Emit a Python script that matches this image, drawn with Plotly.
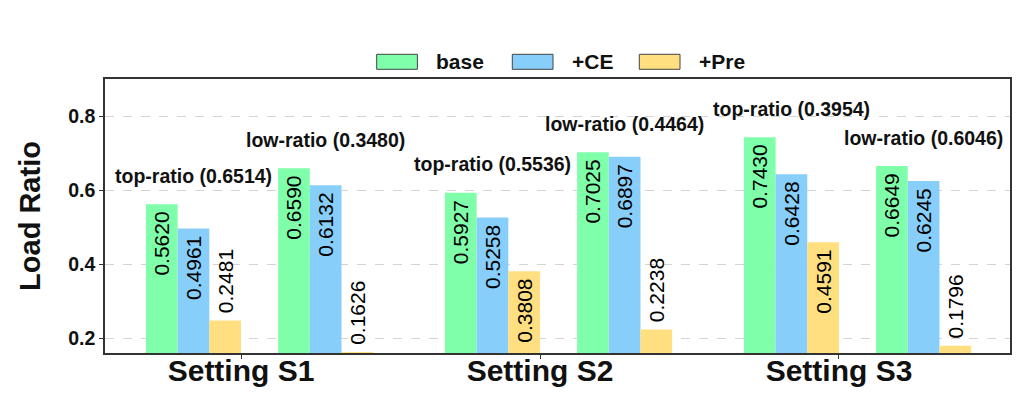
import plotly.graph_objects as go

# ---------------- data ----------------
settings = ["Setting S1", "Setting S2", "Setting S3"]
ratio_kinds = ["top-ratio", "low-ratio"]
ratio_values = [[0.6514, 0.3480], [0.5536, 0.4464], [0.3954, 0.6046]]
series_names = ["base", "+CE", "+Pre"]
base_vals = [[0.5620, 0.6590], [0.5927, 0.7025], [0.7430, 0.6649]]
ce_vals = [[0.4961, 0.6132], [0.5258, 0.6897], [0.6428, 0.6245]]
pre_vals = [[0.2481, 0.1626], [0.3808, 0.2238], [0.4591, 0.1796]]
y_ticks = [0.2, 0.4, 0.6, 0.8]

# ---------------- style ----------------
colors = ["#80FFAA", "#87CEFA", "#FFDF80"]
FONT = "Liberation Sans, Arial, sans-serif"
W, H = 1028, 400
ML, MR, MT, MB = 105, 18, 79, 47
PW, PH = W - ML - MR, H - MT - MB
bar_w = 0.106                      # bar width in setting units
group_left = [-3 * bar_w, 0.124]   # left edge of top-ratio / low-ratio groups
y_range = [0.16, 0.9]
x_range = [-0.455, 2.572]
inside_min = 0.35                  # bars taller than this carry their label inside
PAD = "\u2009"                     # thin space: small gap between label and bar top

series_vals = [base_vals, ce_vals, pre_vals]

fig = go.Figure()
for s, (name, vals, col) in enumerate(zip(series_names, series_vals, colors)):
    xs, ys, txt, pos = [], [], [], []
    for i in range(len(settings)):
        for g in range(len(ratio_kinds)):
            v = vals[i][g]
            xs.append(i + group_left[g] + (s + 0.5) * bar_w)
            ys.append(v)
            inside = v > inside_min
            pos.append("inside" if inside else "outside")
            txt.append(f"{v:.4f}" + PAD if inside else PAD + f"{v:.4f}")
    fig.add_trace(go.Bar(
        x=xs, y=ys, width=bar_w, name=name,
        marker=dict(color=col, line=dict(width=0)),
        text=txt, textposition=pos, textangle=-90,
        insidetextanchor="end", constraintext="none",
        textfont=dict(family=FONT, size=21, color="black"),
        showlegend=False, cliponaxis=False,
    ))

# ratio annotations above each group
for i in range(len(settings)):
    for g, kind in enumerate(ratio_kinds):
        top = max(vals[i][g] for vals in series_vals)
        fig.add_annotation(
            x=i + group_left[g] + 1.5 * bar_w, y=top + 0.077,
            text=f"{kind} ({ratio_values[i][g]:.4f})", showarrow=False,
            xanchor="center", yanchor="middle",
            font=dict(family=FONT, size=19.5, color="#111", weight="bold"),
        )

# custom legend (large swatches)
def px_x(p):
    return (p - ML) / PW

def px_y(p):
    return (H - MB - p) / PH

leg_sw_left = [376.7, 512.3, 639.3]
sw_w, sw_h, leg_cy, txt_gap = 40.7, 15, 61.8, 17
for name, col, lx in zip(series_names, colors, leg_sw_left):
    fig.add_shape(type="rect", xref="paper", yref="paper",
                  x0=px_x(lx), x1=px_x(lx + sw_w),
                  y0=px_y(leg_cy + sw_h / 2), y1=px_y(leg_cy - sw_h / 2),
                  fillcolor=col, line=dict(color="#444", width=1))
    fig.add_annotation(xref="paper", yref="paper", x=px_x(lx + sw_w + txt_gap),
                       y=px_y(leg_cy), text=name, showarrow=False,
                       xanchor="left", yanchor="middle",
                       font=dict(family=FONT, size=21, color="#111", weight="bold"))

fig.update_layout(
    width=W, height=H,
    margin=dict(l=ML, r=MR, t=MT, b=MB),
    plot_bgcolor="white", paper_bgcolor="white",
    barmode="overlay", showlegend=False,
    xaxis=dict(range=x_range, tickvals=list(range(len(settings))), ticktext=settings,
               tickfont=dict(family=FONT, size=30, color="#111", weight="bold"),
               ticks="outside", ticklen=4, tickcolor="#333", automargin=False,
               ticklabelstandoff=-14,
               showline=True, mirror=True, linecolor="#333", linewidth=1.5,
               showgrid=False, zeroline=False),
    yaxis=dict(range=y_range, tickvals=y_ticks, tickformat=".1f", automargin=False,
               tickfont=dict(family=FONT, size=19.5, color="#111", weight="bold"),
               ticks="outside", ticklen=4, tickcolor="#333",
               showline=True, mirror=True, linecolor="#333", linewidth=1.5,
               showgrid=True, gridcolor="#d4d4d4", griddash="dash", gridwidth=1,
               zeroline=False,
               title=dict(text="Load Ratio", standoff=19,
                          font=dict(family=FONT, size=29, color="#111", weight="bold"))),
)

fig.write_html("out.html")
